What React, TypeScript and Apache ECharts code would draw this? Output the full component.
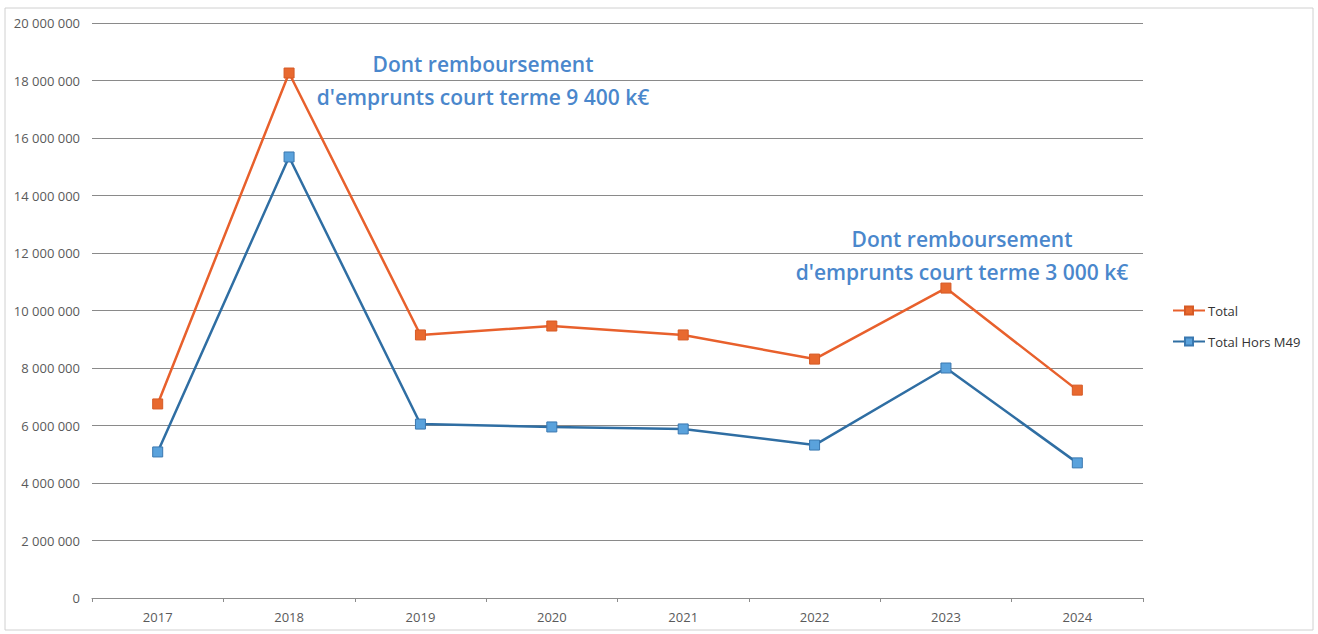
import React, { useEffect, useRef } from "react";
import * as echarts from "echarts";

const categories = ["2017", "2018", "2019", "2020", "2021", "2022", "2023", "2024"];
const totalValues = [6750000, 18260000, 9150000, 9460000, 9150000, 8310000, 10780000, 7230000];
const horsM49Values = [5080000, 15340000, 6050000, 5950000, 5880000, 5320000, 8000000, 4700000];
const seriesNames = ["Total", "Total Hors M49"];
const note2018 = ["Dont remboursement", "d'emprunts court terme 9 400 k€"];
const note2023 = ["Dont remboursement", "d'emprunts court terme 3 000 k€"];

const fmt = (v: number) => String(Math.round(v)).replace(/\B(?=(\d{3})+(?!\d))/g, " ");

export default function App() {
  const ref = useRef<HTMLDivElement>(null);
  useEffect(() => {
    if (!ref.current) return;
    const chart = echarts.init(ref.current, undefined, { renderer: "svg" });
    const noteStyle = {
      fill: "#4a87cc",
      font: '600 21px "Open Sans"',
      textAlign: "center",
      lineHeight: 33,
    };
    chart.setOption({
      animation: false,
      backgroundColor: "#ffffff",
      grid: { left: 92, right: 175, top: 23, bottom: 36 },
      xAxis: {
        type: "category",
        data: categories,
        boundaryGap: true,
        axisLine: { lineStyle: { color: "#8c8c8c", width: 1 } },
        axisTick: { show: true, length: 4, lineStyle: { color: "#8c8c8c" } },
        axisLabel: { color: "#5a5a5a", fontSize: 13, margin: 12, fontFamily: "Open Sans" },
      },
      yAxis: {
        type: "value",
        min: 0,
        max: 20000000,
        interval: 2000000,
        axisLine: { show: false },
        axisTick: { show: false },
        axisLabel: { color: "#5a5a5a", fontSize: 13, margin: 12, formatter: fmt, fontFamily: "Open Sans" },
        splitLine: { lineStyle: { color: "#8a8a8a", width: 1 } },
      },
      legend: {
        orient: "vertical",
        left: 1167,
        top: 299,
        itemWidth: 32,
        itemHeight: 10,
        itemGap: 18,
        textStyle: { color: "#333", fontSize: 13, fontFamily: "Open Sans", padding: [0, 0, 0, -2] },
        data: seriesNames,
      },
      series: [
        {
          name: seriesNames[0],
          type: "line",
          data: totalValues,
          symbol: "rect",
          symbolSize: 10,
          lineStyle: { color: "#e8602c", width: 2.5 },
          itemStyle: { color: "#e8692f", borderColor: "#d65a25", borderWidth: 1 },
          z: 3,
        },
        {
          name: seriesNames[1],
          type: "line",
          data: horsM49Values,
          symbol: "rect",
          symbolSize: 10,
          lineStyle: { color: "#2f6ea3", width: 2.5 },
          itemStyle: { color: "#5aa2dc", borderColor: "#3a78b0", borderWidth: 1 },
          z: 2,
        },
      ],
      graphic: [
        {
          type: "rect",
          shape: { x: 5, y: 8, width: 1308, height: 622 },
          style: { fill: "none", stroke: "#d0d0d0", lineWidth: 1 },
          silent: true,
        },
        {
          type: "text",
          x: 483,
          y: 47,
          style: { ...noteStyle, text: note2018.join("\n") },
        },
        {
          type: "text",
          x: 962,
          y: 222,
          style: { ...noteStyle, text: note2023.join("\n") },
        },
      ],
    });
    return () => chart.dispose();
  }, []);
  return <div ref={ref} style={{ position: "fixed", left: 0, top: 0, width: 1318, height: 634 }} />;
}
